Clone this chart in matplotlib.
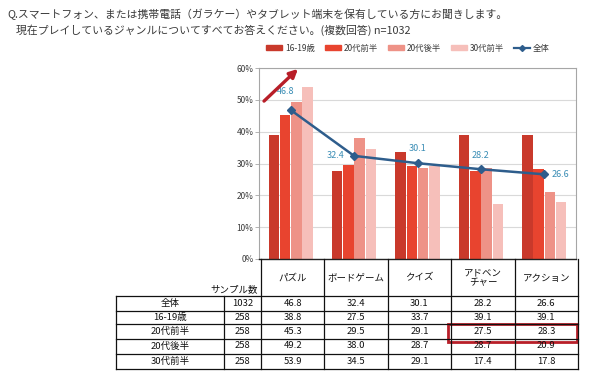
import matplotlib
matplotlib.use("Agg")
import matplotlib.pyplot as plt
import matplotlib.transforms as mtransforms
from matplotlib.patches import Patch, Rectangle, FancyArrowPatch
from matplotlib.lines import Line2D
import numpy as np

plt.rcParams['font.family'] = ['Noto Sans CJK JP', 'DejaVu Sans']

# ---------------- data ----------------
categories = ["パズル", "ボードゲーム", "クイズ", "アドベン\nチャー", "アクション"]
groups = ["16-19歳", "20代前半", "20代後半", "30代前半"]
v_16_19 = [38.8, 27.5, 33.7, 39.1, 39.1]
v_20_early = [45.3, 29.5, 29.1, 27.5, 28.3]
v_20_late = [49.2, 38.0, 28.7, 28.7, 20.9]
v_30_early = [53.9, 34.5, 29.1, 17.4, 17.8]
total_label = "全体"
v_total = [46.8, 32.4, 30.1, 28.2, 26.6]
row_labels = ["全体", "16-19歳", "20代前半", "20代後半", "30代前半"]
sample_sizes = [1032, 258, 258, 258, 258]
yticks = [0, 10, 20, 30, 40, 50, 60]
title_lines = ["Q.スマートフォン、または携帯電話（ガラケー）やタブレット端末を保有している方にお聞きします。",
               "現在プレイしているジャンルについてすべてお答えください。(複数回答) n=1032"]

group_values = [v_16_19, v_20_early, v_20_late, v_30_early]
table_rows = [v_total] + group_values

# ---------------- style ----------------
W, H = 595, 383
bar_colors = ["#C9392B", "#E8442F", "#EE9287", "#F6BFBA"]
line_color = "#2E5D8C"
label_color = "#3A8DB5"
text_color = "#3A3A3A"
red = "#B81E28"

fig = plt.figure(figsize=(W / 100, H / 100), dpi=100)
fig.patch.set_facecolor("white")
# pixel transform (top-left origin)
P = mtransforms.Affine2D().scale(1 / W, -1 / H).translate(0, 1) + fig.transFigure

ax_l, ax_r, ax_t, ax_b = 259, 576, 68, 259
ax = fig.add_axes([ax_l / W, 1 - ax_b / H, (ax_r - ax_l) / W, (ax_b - ax_t) / H])

x = np.arange(len(categories))
bw = 0.177
for i, (vals, col, name) in enumerate(zip(group_values, bar_colors, groups)):
    ax.bar(x + (i - 1.5) * bw, vals, width=bw * 0.93, color=col, label=name, zorder=2)

ax.plot(x, v_total, color=line_color, lw=1.8, marker="D", ms=4.5,
        markerfacecolor=line_color, markeredgecolor=line_color, zorder=4, label=total_label)

offsets = [((-4, 10), "center", "bottom"), ((-7, 0), "right", "center"),
           ((0, 7), "center", "bottom"), ((0, 7), "center", "bottom"),
           ((5, 0), "left", "center")]
for xi, v, (off, ha, va) in zip(x, v_total, offsets):
    ax.annotate(f"{v:.1f}", (xi, v), xytext=off, textcoords="offset points",
                ha=ha, va=va, fontsize=6.5, color=label_color, zorder=6)

ax.set_xlim(-0.5, len(categories) - 0.5)
ax.set_ylim(0, 60)
ax.set_yticks(yticks)
ax.set_yticklabels([f"{t}%" for t in yticks], fontsize=6, color=text_color)
ax.set_xticks([])
ax.yaxis.grid(True, color="#D9D9D9", lw=0.8, zorder=0)
ax.set_axisbelow(True)
for s in ["top", "right", "left"]:
    ax.spines[s].set_color("#A6A6A6")
    ax.spines[s].set_linewidth(0.8)
ax.spines["bottom"].set_color("#222222")
ax.spines["bottom"].set_linewidth(1.0)
ax.tick_params(axis="y", length=3, width=0.6, color="#A6A6A6", pad=1)

# legend
handles = [Patch(color=c) for c in bar_colors] + \
    [Line2D([], [], color=line_color, lw=1.6, marker="D", ms=3)]
leg = fig.legend(handles, groups + [total_label], ncol=5, frameon=False,
                 fontsize=6, loc="center", bbox_to_anchor=(408 / W, 1 - 48 / H),
                 handlelength=1.9, handleheight=0.45, handletextpad=0.4,
                 columnspacing=1.15, labelcolor=text_color)

# title
fig.text(7 / W, 1 - 14 / H, title_lines[0], fontsize=7.8, color=text_color,
         ha="left", va="center")
fig.text(16 / W, 1 - 30 / H, title_lines[1], fontsize=7.8, color=text_color,
         ha="left", va="center")

# red arrow
arr = FancyArrowPatch((262, 103), (300, 67), transform=P, arrowstyle="-|>",
                      mutation_scale=12, color=red, lw=2.4, zorder=5)
fig.patches.append(arr)

# ---------------- table ----------------
cw = (ax_r - ax_l) / len(categories)
col_edges = [ax_l + 2 + i * cw for i in range(len(categories) + 1)]
row_edges = [296, 310.5, 324, 338.5, 353.5, 369]
tab_left, samp_left = 116, 224
lc = "#111111"

def hline(y, x0, x1, lw=0.9):
    fig.lines.append(Line2D([x0, x1], [y, y], transform=P, color=lc, lw=lw))

def vline(x0, y0, y1, lw=0.9):
    fig.lines.append(Line2D([x0, x0], [y0, y1], transform=P, color=lc, lw=lw))

for y in row_edges:
    hline(y, tab_left, col_edges[-1])
vline(tab_left, row_edges[0], row_edges[-1])
vline(samp_left, row_edges[0], row_edges[-1])
for xe in col_edges:
    vline(xe, ax_b, row_edges[-1])

fs = 6.8
for j, cat in enumerate(categories):
    cx = (col_edges[j] + col_edges[j + 1]) / 2
    fig.text(cx / W, 1 - 278 / H, cat, transform=fig.transFigure, fontsize=fs,
             ha="center", va="center", color="#111111", linespacing=1.15)
fig.text(258 / W, 1 - 290 / H, "サンプル数", fontsize=fs, ha="right", va="center",
         color="#111111")

for r, (lab, n, vals) in enumerate(zip(row_labels, sample_sizes, table_rows)):
    cy = (row_edges[r] + row_edges[r + 1]) / 2
    fig.text((tab_left + samp_left) / 2 / W, 1 - cy / H, lab, fontsize=fs,
             ha="center", va="center", color="#111111")
    fig.text((samp_left + col_edges[0]) / 2 / W, 1 - cy / H, str(n), fontsize=fs,
             ha="center", va="center", color="#111111")
    for j, v in enumerate(vals):
        cx = (col_edges[j] + col_edges[j + 1]) / 2
        fig.text(cx / W, 1 - cy / H, f"{v:.1f}", fontsize=fs, ha="center",
                 va="center", color="#111111")

# highlight box
rect = Rectangle((448, 342), 129, -18, transform=P, fill=False, ec=red, lw=2.0)
fig.patches.append(rect)

fig.savefig("out.png", dpi=100)
